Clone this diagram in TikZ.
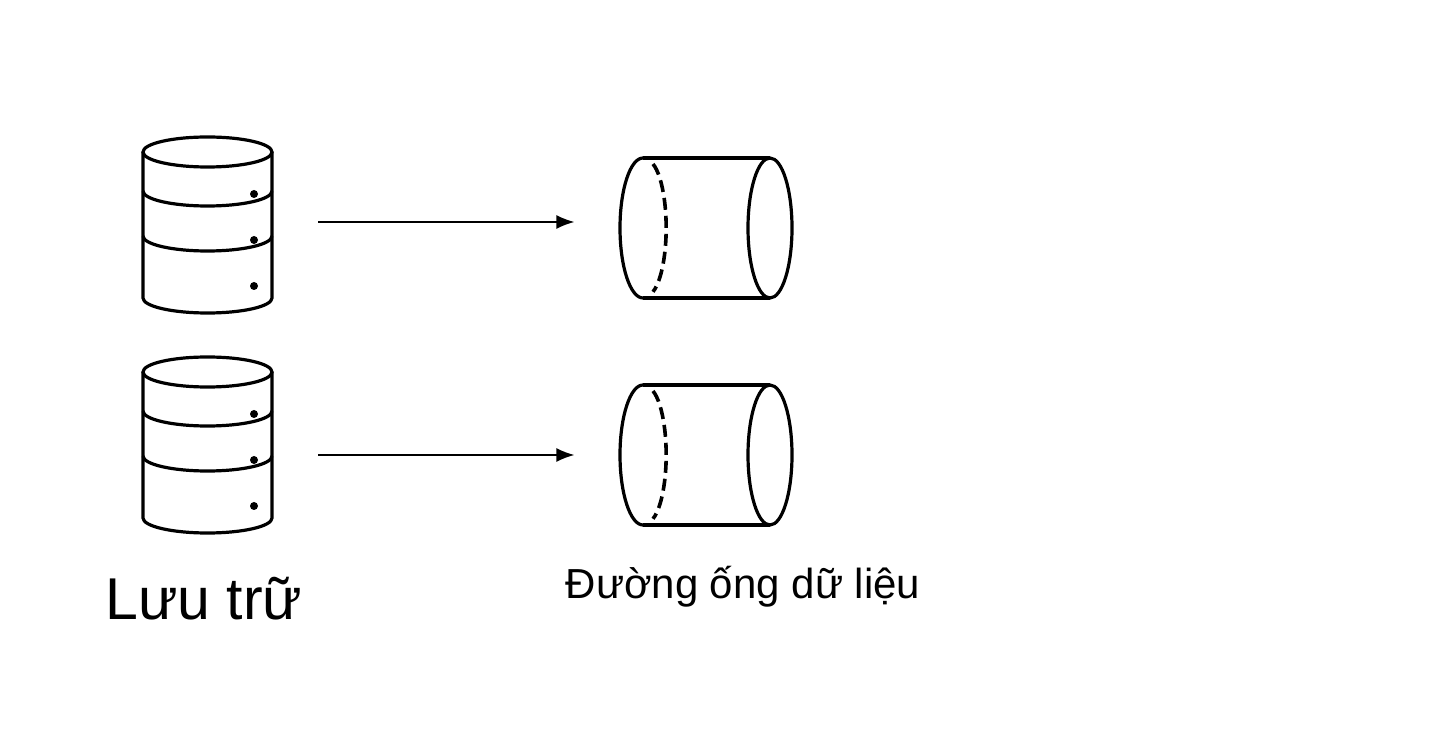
\documentclass[tikz,border=0pt]{standalone}
\usepackage{fontspec}
\setmainfont{Liberation Sans}
\usetikzlibrary{arrows.meta}
\begin{document}
\begin{tikzpicture}[x=0.5pt,y=-0.5pt,line width=1.6pt,
  arr/.style={line width=0.8pt,-{Latex[length=9pt,width=7pt]}}]
\useasboundingbox (0,0) rectangle (1456,731);
\foreach \o in {0,220}{
  \begin{scope}[shift={(0,\o)}]
  \draw (143,152) -- (143,298) arc[start angle=180,end angle=0,x radius=64.5,y radius=15] -- (272,152);
  \draw (207.5,152) ellipse[x radius=64.5,y radius=15];
  \draw (143,191) arc[start angle=180,end angle=0,x radius=64.5,y radius=15];
  \draw (143,236) arc[start angle=180,end angle=0,x radius=64.5,y radius=15];
  \foreach \d in {194,240,286} \fill (254,\d) circle[radius=4];
  \end{scope}
}
\foreach \s in {0,227}{
  \begin{scope}[shift={(0,\s)}]
  \draw (643,158) -- (770,158);
  \draw (643,298) -- (770,298);
  \draw (643,158) arc[start angle=270,end angle=90,x radius=23,y radius=70];
  \draw (770,228) ellipse[x radius=22,y radius=70];
  \draw[line width=1.8pt,dash pattern=on 6pt off 3pt] (653,164) arc[start angle=290,end angle=430,x radius=20,y radius=68];
  \end{scope}
}
\node[inner sep=0] (ca) at (577,222) {};
\node[inner sep=0] (cb) at (577,455) {};
\coordinate (a1) at (318,222);
\coordinate (b1) at (318,455);
\draw[arr] (a1) -- (ca);
\draw[arr] (b1) -- (cb);
\node[font=\fontsize{29.5}{33}\selectfont] (t1) at (204,599) {Lưu trữ};
\node[font=\fontsize{21}{25}\selectfont] (t2) at (743,587) {Đường ống dữ liệu};
\end{tikzpicture}
\end{document}
